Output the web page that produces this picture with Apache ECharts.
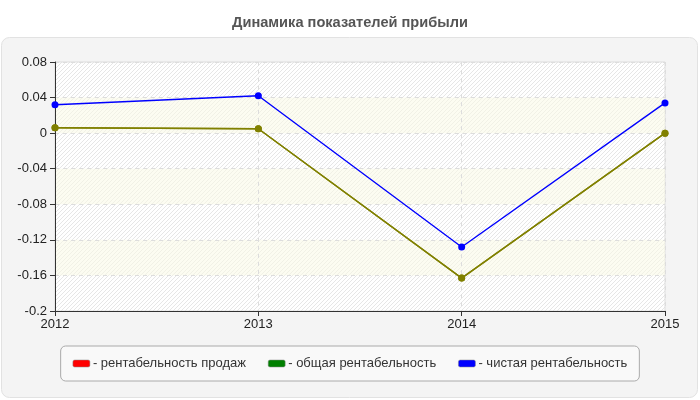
<!DOCTYPE html>
<html><head><meta charset="utf-8">
<script src="https://cdn.jsdelivr.net/npm/echarts@6/dist/echarts.min.js"></script>
<style>html,body{margin:0;padding:0;background:#fff}#c{width:700px;height:400px}</style>
</head><body><div id="c"></div>
<script>
const years = ['2012','2013','2014','2015'];
const salesProfitability = [0.006, 0.005, -0.163, 0.0];
const totalProfitability = [0.006, 0.005, -0.163, 0.0];
const netProfitability = [0.032, 0.042, -0.128, 0.034];
const seriesNames = ['рентабельность продаж','общая рентабельность','чистая рентабельность'];
const legendColors = ['#ff0000','#008000','#0000ff'];

const pc = document.createElement('canvas');
pc.width = 4; pc.height = 4;
const g = pc.getContext('2d');
g.fillStyle = '#ffffff'; g.fillRect(0,0,4,4);
g.strokeStyle = '#e6e6e6'; g.lineWidth = 1;
g.beginPath(); g.moveTo(0,4); g.lineTo(4,0); g.stroke();
g.beginPath(); g.moveTo(-1,1); g.lineTo(1,-1); g.stroke();
g.beginPath(); g.moveTo(3,5); g.lineTo(5,3); g.stroke();

const FONT = '"Liberation Sans", Arial, sans-serif';
const chart = echarts.init(document.getElementById('c'));
chart.setOption({
  animation: false,
  backgroundColor: '#ffffff',
  textStyle: { fontFamily: FONT },
  graphic: [{
    type: 'rect', z: -10, silent: true,
    shape: { x: 1.5, y: 37.5, width: 696, height: 360, r: 8 },
    style: { fill: '#f4f4f4', stroke: '#e2e2e2', lineWidth: 1 }
  }],
  title: {
    text: 'Динамика показателей прибыли',
    left: 'center', top: 10,
    textStyle: { fontFamily: FONT, fontSize: 14.6, fontWeight: 'bold', color: '#555555' }
  },
  legend: {
    left: 'center', top: 346,
    backgroundColor: '#f9f9f9',
    borderColor: '#aaaaaa', borderWidth: 1, borderRadius: 5,
    padding: [11, 12],
    itemWidth: 17, itemHeight: 7, itemGap: 22,
    icon: 'roundRect',
    formatter: '- {name}',
    textStyle: { fontFamily: FONT, fontSize: 13, color: '#333333', padding: [0,0,0,-2] },
    data: seriesNames.map((n, i) => ({ name: n, itemStyle: { color: legendColors[i], borderColor: '#888', borderWidth: 0.5 } }))
  },
  grid: {
    left: 55, right: 35, top: 62, bottom: 89,
    show: true,
    backgroundColor: { image: pc, repeat: 'repeat' },
    borderColor: '#dddddd', borderWidth: 1
  },
  xAxis: {
    type: 'category', data: years, boundaryGap: false,
    axisLine: { onZero: false, lineStyle: { color: '#333333', width: 1 } },
    axisTick: { show: true, length: 5, lineStyle: { color: '#333333' } },
    axisLabel: { fontFamily: FONT, fontSize: 13, color: '#222222', margin: 7 },
    splitLine: { show: true, lineStyle: { color: '#dddddd', type: [4, 4] } }
  },
  yAxis: {
    type: 'value', min: -0.2, max: 0.08, interval: 0.04,
    axisLine: { show: true, lineStyle: { color: '#333333', width: 1 } },
    axisTick: { show: true, length: 5, lineStyle: { color: '#333333' } },
    axisLabel: { fontFamily: FONT, fontSize: 13, color: '#222222', margin: 8,
      formatter: v => String(Math.round(v * 100) / 100) },
    splitLine: { show: true, lineStyle: { color: '#dddddd', type: [4, 4] } },
    splitArea: { show: true, areaStyle: { color: ['rgba(0,0,0,0)', 'rgba(250,250,230,0.55)'] } }
  },
  series: [
    { name: seriesNames[0], type: 'line', data: salesProfitability, color: '#808000',
      symbol: 'circle', symbolSize: 7, lineStyle: { width: 1.4 } },
    { name: seriesNames[1], type: 'line', data: totalProfitability, color: '#808000',
      symbol: 'circle', symbolSize: 7, lineStyle: { width: 1.4 } },
    { name: seriesNames[2], type: 'line', data: netProfitability, color: '#0000ff',
      symbol: 'circle', symbolSize: 7, lineStyle: { width: 1.4 } }
  ]
});
</script></body></html>
